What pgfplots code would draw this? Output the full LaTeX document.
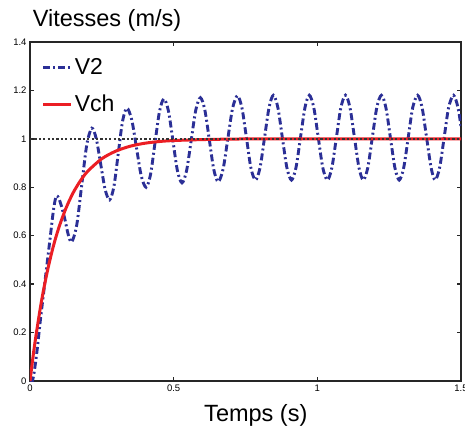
\documentclass[border=0pt]{standalone}
\usepackage{fontspec}
\setmainfont{Liberation Sans}
\usepackage{pgfplots}
\pgfplotsset{compat=1.18}
\definecolor{vblue}{HTML}{2B2F96}
\definecolor{vred}{HTML}{EB1E24}

\begin{document}
\begin{tikzpicture}
\begin{axis}[
  at={(0pt,0pt)}, anchor=south west,
  scale only axis,
  width=431pt, height=339pt,
  xmin=0, xmax=1.5,
  ymin=0, ymax=1.4,
  xtick={0,0.5,1,1.5},
  ytick={0,0.2,0.4,0.6,0.8,1,1.2,1.4},
  tick align=inside,
  tick pos=both,
  major tick length=4pt,
  axis line style={draw=black!85, line width=1.3pt},
  tick style={draw=black!85, line width=1.3pt},
  /pgf/number format/assume math mode=true,
  tick label style={font=\fontsize{9.5}{10}\selectfont},
  legend style={draw=none, fill=none, at={(0.027,0.958)}, anchor=north west,
    font=\fontsize{23}{24}\selectfont, row sep=15pt, inner sep=0pt,
    cells={anchor=west}},
  legend image code/.code={\draw[#1] (0pt,0pt) -- (28pt,0pt);},
]
\addplot[color=vblue, line width=2.9pt, smooth,
  dash pattern=on 7pt off 3pt on 2pt off 3pt] coordinates {
  (0,0) (0.008,0.0) (0.015,0.04) (0.025,0.13) (0.035,0.24) (0.046,0.35)
  (0.058,0.47) (0.07,0.59) (0.081,0.70) (0.088,0.75) (0.093,0.765)
  (0.1,0.755) (0.11,0.72) (0.122,0.665) (0.133,0.605) (0.145,0.574)
  (0.1625,0.643) (0.18,0.809) (0.1975,0.975) (0.215,1.044)
  (0.2305,1.001) (0.246,0.896) (0.2615,0.791) (0.277,0.748)
  (0.292,0.803) (0.307,0.938) (0.322,1.072) (0.337,1.127)
  (0.354,1.079) (0.3705,0.964) (0.387,0.848) (0.404,0.80)
  (0.4195,0.853) (0.435,0.983) (0.4505,1.112) (0.466,1.165)
  (0.482,1.114) (0.4975,0.992) (0.513,0.869) (0.529,0.818)
  (0.545,0.869) (0.561,0.994) (0.577,1.119) (0.593,1.17)
  (0.6085,1.119) (0.624,0.997) (0.6395,0.874) (0.655,0.823)
  (0.672,0.875) (0.6885,1.001) (0.705,1.126) (0.722,1.178)
  (0.7377,1.127) (0.7535,1.003) (0.769,0.879) (0.785,0.83)
  (0.8006,0.881) (0.8163,1.005) (0.8319,1.129) (0.847,1.18)
  (0.8627,1.129) (0.8783,1.005) (0.894,0.881) (0.910,0.83)
  (0.9256,0.881) (0.9413,1.005) (0.9569,1.129) (0.972,1.18)
  (0.9877,1.129) (1.0033,1.005) (1.019,0.881) (1.035,0.83)
  (1.0506,0.881) (1.0663,1.005) (1.0819,1.129) (1.098,1.18)
  (1.1136,1.129) (1.1293,1.005) (1.1449,0.881) (1.160,0.83)
  (1.1756,0.881) (1.1913,1.005) (1.2069,1.129) (1.223,1.18)
  (1.2386,1.129) (1.2543,1.005) (1.2699,0.881) (1.285,0.83)
  (1.3006,0.881) (1.3163,1.005) (1.3319,1.129) (1.349,1.18)
  (1.3646,1.129) (1.3803,1.005) (1.3959,0.881) (1.410,0.83)
  (1.4256,0.881) (1.4413,1.005) (1.4569,1.129) (1.474,1.18)
  (1.4896,1.129) (1.5,1.05)
};
\addlegendentry{V2}
\addplot[color=vred, line width=3pt, smooth] coordinates {
  (0,0) (0.01,0.095) (0.02,0.181) (0.04,0.330) (0.06,0.451) (0.08,0.551)
  (0.1,0.632) (0.125,0.713) (0.15,0.777) (0.175,0.826) (0.2,0.865)
  (0.25,0.918) (0.3,0.950) (0.35,0.970) (0.4,0.982) (0.45,0.989)
  (0.5,0.993) (0.6,0.997) (0.7,0.999) (0.8,1.0) (1.0,1.0) (1.5,1.0)
};
\addlegendentry{Vch}
\addplot[forget plot, color=black!80, line width=2.3pt,
  dash pattern=on 2.2pt off 2.2pt] coordinates {(0,1) (1.5,1)};
\end{axis}
\node[anchor=base west, font=\fontsize{23.5}{24}\selectfont] at (-0.7pt,354.3pt) {Vitesses (m/s)};
\node[anchor=base, font=\fontsize{23.5}{24}\selectfont] at (225.8pt,-40pt) {Temps (s)};
\pgfresetboundingbox
\useasboundingbox (-30pt,-47pt) rectangle (435pt,381pt);
\end{tikzpicture}
\end{document}
